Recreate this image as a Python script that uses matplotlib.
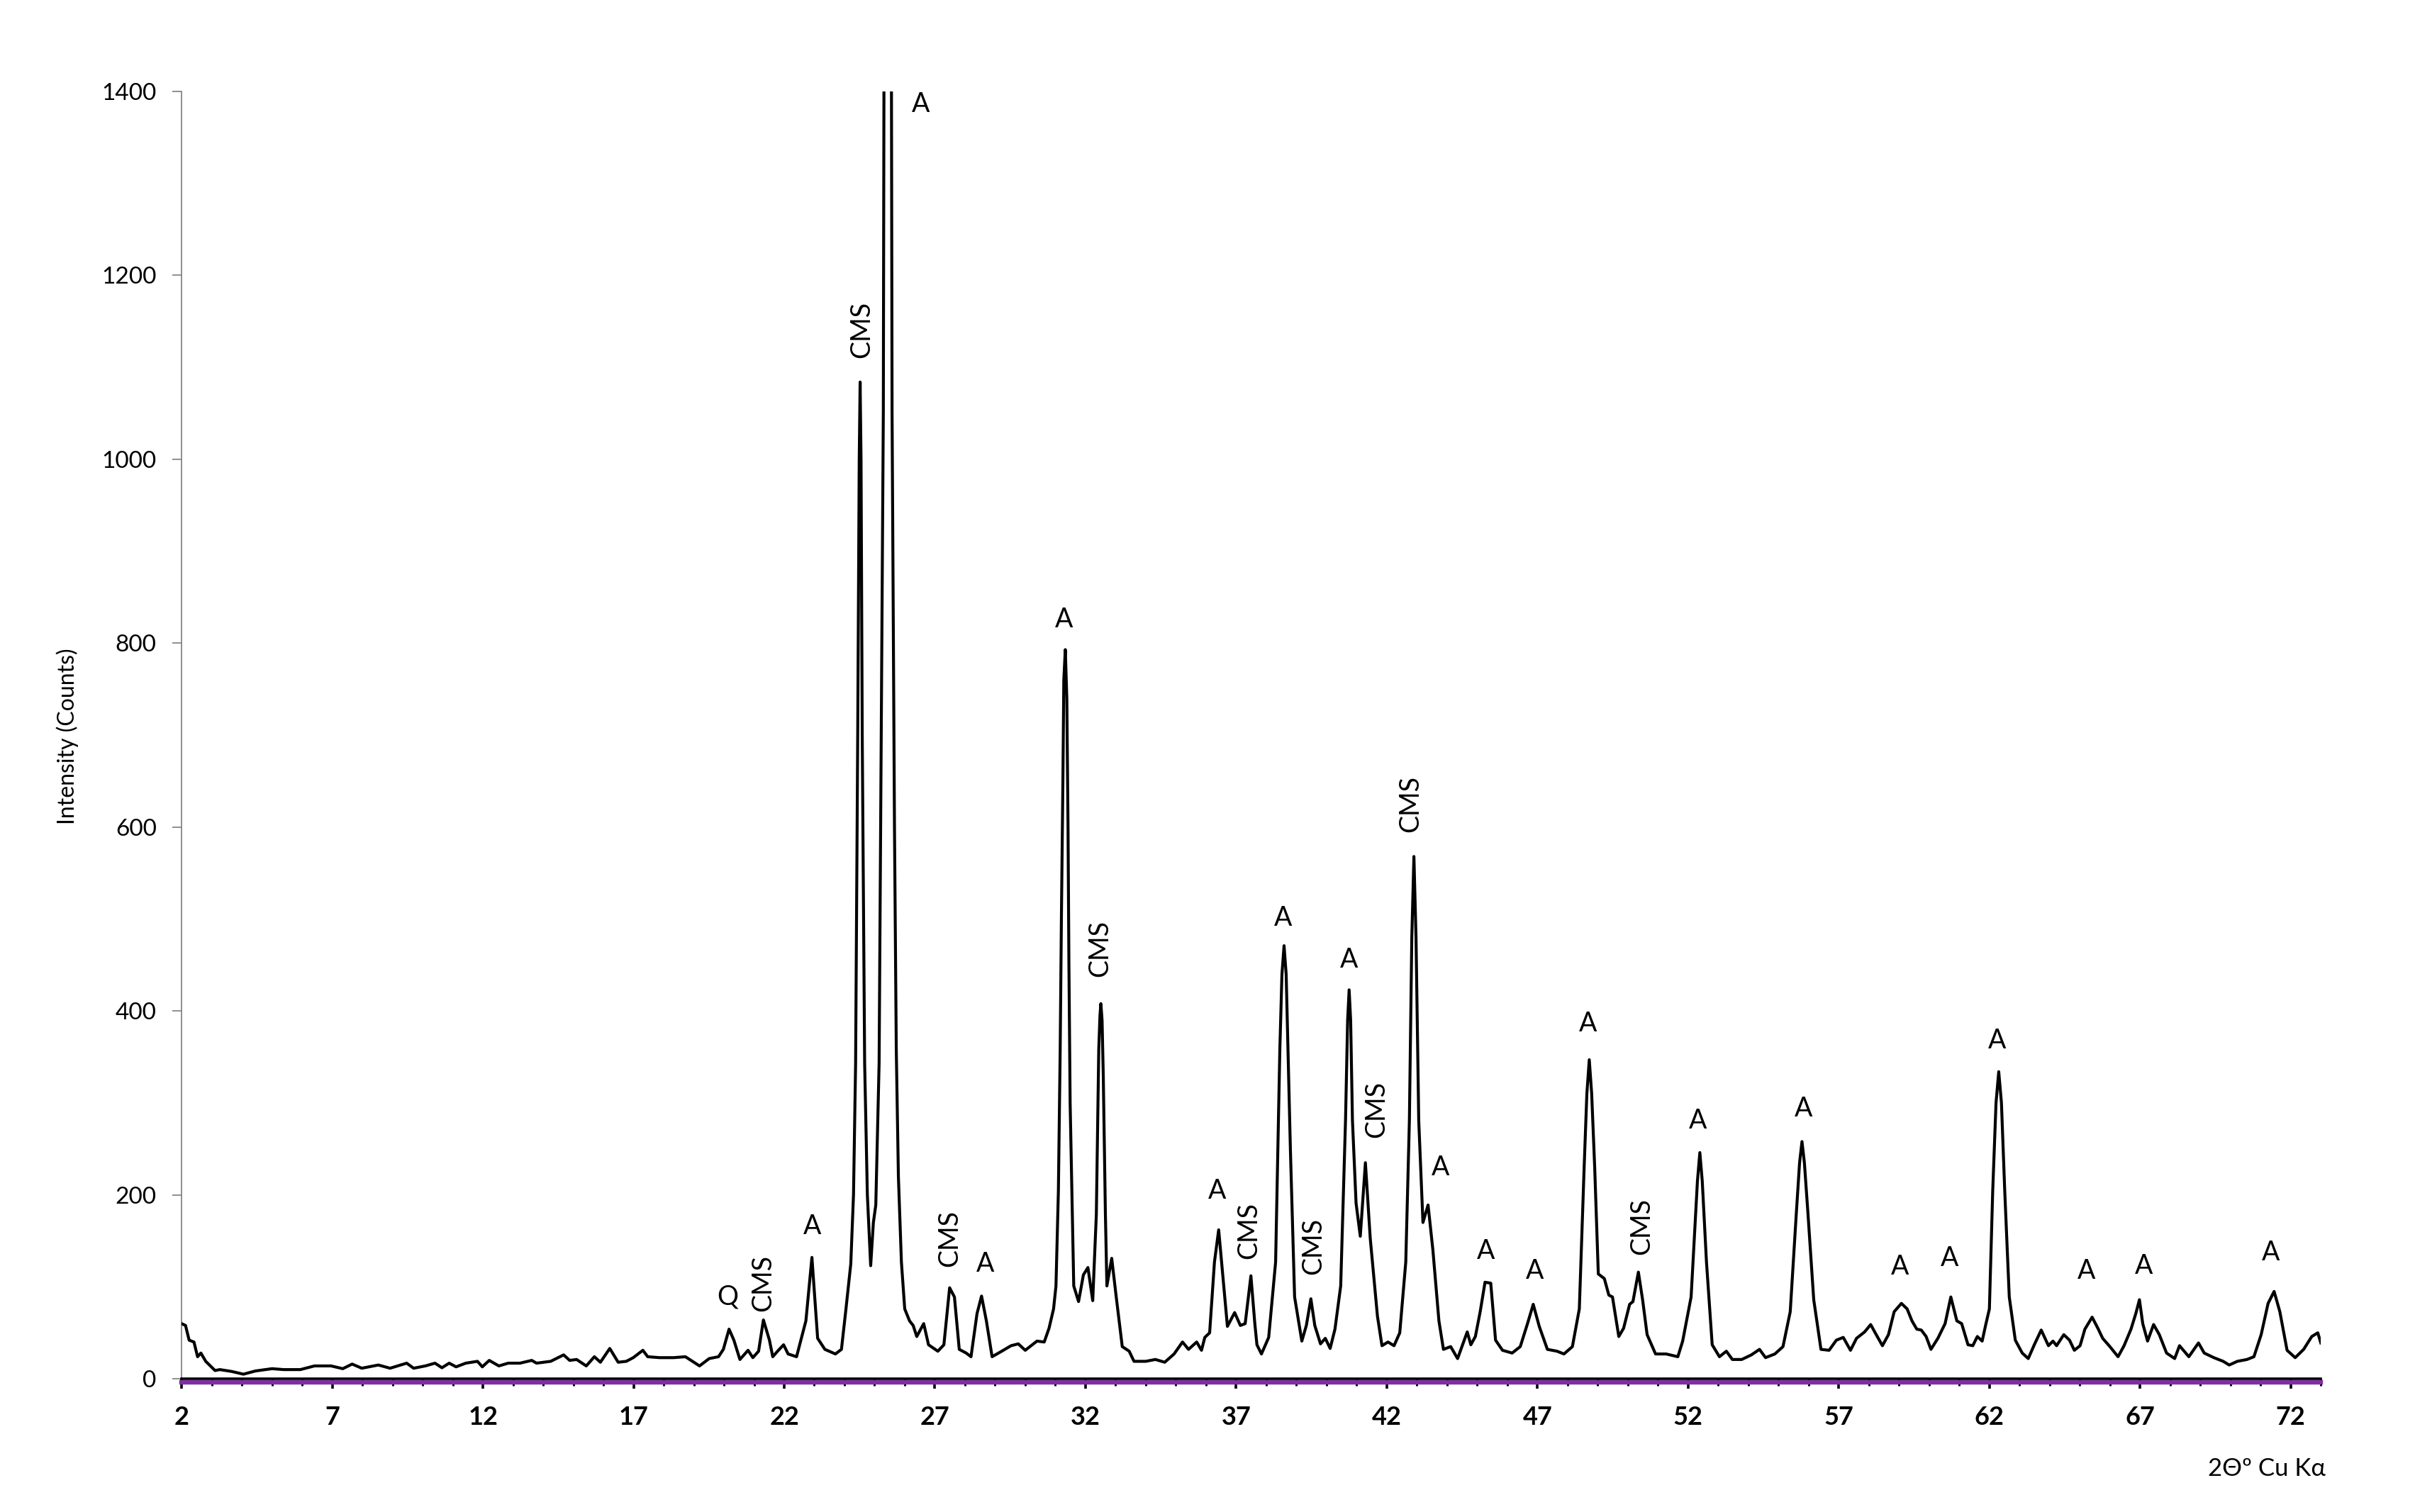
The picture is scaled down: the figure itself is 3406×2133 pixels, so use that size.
import matplotlib
matplotlib.use("Agg")
import matplotlib.pyplot as plt
import matplotlib.transforms as mtransforms
import numpy as np

# XRD pattern (2-theta, counts)
two_theta = [
    2.00, 2.13, 2.25, 2.41, 2.53, 2.64, 2.80, 3.11, 3.27, 3.66, 4.05, 4.45, 5.00, 5.39, 5.94,
    6.41, 6.96, 7.35, 7.66, 7.98, 8.53, 8.92, 9.47, 9.70, 10.09, 10.41, 10.64, 10.88, 11.11,
    11.43, 11.82, 11.98, 12.21, 12.53, 12.84, 13.23, 13.62, 13.78, 14.25, 14.68, 14.88, 15.11,
    15.43, 15.70, 15.90, 16.21, 16.49, 16.76, 16.99, 17.31, 17.47, 17.86, 18.33, 18.72, 19.19,
    19.51, 19.82, 19.98, 20.17, 20.33, 20.53, 20.80, 20.96, 21.15, 21.31, 21.51, 21.62, 21.78,
    21.98, 22.13, 22.41, 22.72, 22.92, 23.11, 23.35, 23.70, 23.90, 24.05, 24.21, 24.30, 24.37,
    24.44, 24.52, 24.59, 24.67, 24.76, 24.87, 24.96, 25.04, 25.15, 25.22, 25.29, 25.31, 25.36,
    25.43, 25.50, 25.56, 25.58, 25.66, 25.72, 25.79, 25.89, 26.00, 26.16, 26.28, 26.40, 26.63,
    26.79, 27.10, 27.30, 27.49, 27.65, 27.81, 28.04, 28.20, 28.40, 28.55, 28.71, 28.90, 29.22,
    29.53, 29.77, 30.00, 30.39, 30.63, 30.79, 30.94, 31.02, 31.10, 31.16, 31.25, 31.33, 31.42,
    31.49, 31.61, 31.77, 31.93, 32.08, 32.24, 32.36, 32.44, 32.51, 32.59, 32.66, 32.71, 32.87,
    33.02, 33.22, 33.45, 33.61, 34.00, 34.32, 34.63, 34.94, 35.22, 35.42, 35.69, 35.85, 35.96,
    36.12, 36.28, 36.42, 36.59, 36.71, 36.95, 37.14, 37.30, 37.49, 37.62, 37.69, 37.84, 38.08,
    38.31, 38.45, 38.59, 38.72, 38.80, 38.94, 39.18, 39.33, 39.48, 39.61, 39.80, 39.96, 40.12,
    40.28, 40.47, 40.63, 40.75, 40.86, 40.98, 41.12, 41.29, 41.45, 41.69, 41.84, 42.04, 42.24,
    42.43, 42.63, 42.75, 42.90, 43.06, 43.20, 43.37, 43.53, 43.73, 43.88, 44.12, 44.35, 44.55,
    44.67, 44.79, 44.94, 45.10, 45.26, 45.45, 45.61, 45.84, 46.16, 46.43, 46.67, 46.86, 47.06,
    47.33, 47.65, 47.88, 48.16, 48.39, 48.55, 48.72, 48.90, 49.02, 49.22, 49.37, 49.49, 49.70,
    49.86, 50.06, 50.17, 50.35, 50.49, 50.64, 50.92, 51.27, 51.66, 51.82, 52.10, 52.39, 52.61,
    52.80, 53.04, 53.27, 53.47, 53.78, 54.10, 54.37, 54.57, 54.88, 55.15, 55.39, 55.59, 55.78,
    55.98, 56.17, 56.41, 56.68, 56.92, 57.15, 57.39, 57.59, 57.86, 58.06, 58.21, 58.45, 58.65,
    58.84, 59.08, 59.27, 59.43, 59.59, 59.74, 59.90, 60.06, 60.29, 60.53, 60.72, 60.92, 61.08,
    61.29, 61.45, 61.60, 61.76, 61.88, 62.00, 62.11, 62.31, 62.51, 62.66, 62.86, 63.09, 63.29,
    63.49, 63.72, 63.96, 64.11, 64.23, 64.47, 64.66, 64.82, 65.01, 65.17, 65.41, 65.60, 65.76,
    66.00, 66.27, 66.47, 66.70, 66.86, 66.98, 67.09, 67.25, 67.45, 67.64, 67.88, 68.15, 68.31,
    68.62, 68.94, 69.13, 69.45, 69.76, 69.96, 70.23, 70.55, 70.78, 71.02, 71.25, 71.45, 71.64,
    71.88, 72.15, 72.43, 72.70, 72.90, 73.00,
]
counts = [
    60, 58, 42, 40, 24, 28, 19, 9, 10, 8, 5, 8.5, 11, 10, 10,
    14, 14, 11, 16, 11.5, 15, 11.5, 17, 11.5, 14, 17, 12, 17, 13,
    17, 19, 13, 20, 14, 17, 17, 20, 17, 19, 26, 20, 21,
    14, 24, 18, 33, 18, 19, 23, 31, 24, 23, 23, 24, 14,
    22, 24, 32, 54, 42, 21, 31, 23, 30, 64, 42, 24, 30,
    37, 27, 24, 63, 132, 44, 32, 27, 32, 76, 125, 200, 343,
    700, 1084, 700, 343, 200, 123, 170, 189, 343, 700, 1052, 1400, 2200,
    2600, 2200, 1400, 1052, 600, 358, 220, 127, 76, 63, 58, 46, 60,
    37, 30, 37, 99, 89, 32, 28, 24, 71, 90, 63, 24, 30,
    36, 38, 31, 41, 40, 55, 76, 101, 204, 358, 650, 793, 600,
    300, 101, 84, 113, 121, 85, 179, 358, 408, 330, 180, 101, 131,
    89, 35, 30, 19, 19, 21, 18, 27, 40, 32, 40, 31, 45,
    50, 127, 162, 101, 57, 72, 58, 60, 112, 60, 37, 27, 45,
    127, 358, 471, 358, 250, 89, 41, 58, 87, 58, 38, 44, 33,
    54, 101, 281, 423, 281, 191, 155, 235, 153, 68, 36, 40, 36,
    50, 127, 281, 568, 281, 170, 189, 140, 63, 32, 35, 22, 40,
    51, 37, 46, 73, 105, 104, 42, 31, 28, 35, 60, 81, 57,
    32, 30, 27, 35, 76, 230, 347, 230, 114, 109, 91, 89, 46,
    55, 81, 84, 116, 86, 48, 27, 27, 24, 41, 89, 246, 127,
    37, 24, 30, 21, 21, 26, 32, 23, 27, 35, 73, 179, 258,
    179, 86, 32, 31, 42, 45, 31, 44, 51, 59, 50, 36, 48,
    73, 82, 76, 63, 54, 53, 46, 32, 44, 60, 89, 63, 60,
    37, 36, 46, 41, 59, 76, 204, 334, 204, 89, 42, 28, 22,
    37, 53, 36, 41, 36, 48, 42, 31, 36, 54, 67, 55, 44,
    35, 24, 36, 54, 71, 86, 60, 41, 59, 48, 28, 22, 36,
    24, 39, 28, 23, 19, 15, 19, 21, 24, 48, 82, 95, 73,
    31, 23, 32, 46, 50, 39,
]

# extra readings near the tops of the strong peaks (rounder shoulders)
top_theta = [24.49, 24.55, 31.20, 31.28, 31.38, 31.45, 32.48, 32.55, 38.52, 38.66,
             40.70, 40.80, 42.83, 42.97, 48.64, 48.80, 52.31, 52.47, 55.70, 55.86,
             62.22, 62.40]
top_counts = [1000, 1000, 500, 760, 740, 450, 395, 390, 440, 440,
              390, 390, 480, 480, 310, 310, 215, 215, 235, 235,
              300, 300]

# phase labels: Q = quartz, CMS, A
label_text = ["Q", "CMS", "A", "CMS", "A", "CMS", "A", "A", "CMS", "A", "CMS", "A", "CMS",
              "A", "CMS", "CMS", "A", "A", "A", "A", "CMS", "A", "A", "A", "A", "A", "A", "A", "A"]
label_x = [20.13, 21.31, 22.92, 24.56, 26.54, 27.49, 28.67, 31.29, 32.47, 36.36, 37.42, 38.55, 39.57,
           40.75, 41.65, 42.79, 43.77, 45.29, 46.90, 48.67, 50.45, 52.33, 55.82, 59.04, 60.67,
           62.26, 65.21, 67.13, 71.35]
label_y = [89, 104, 166, 1141, 1386, 153, 125, 826, 468, 204, 161, 501, 144,
           456, 293, 625, 230, 139, 117, 386, 166, 281, 294, 122, 131,
           368, 117, 123, 137]

pattern = sorted(zip(two_theta + top_theta, counts + top_counts))
xs = [p[0] for p in pattern]
ys = [p[1] for p in pattern]

plt.rcParams['font.family'] = ['Lato', 'DejaVu Sans']

fig = plt.figure(figsize=(34.06, 21.33), dpi=100)
ax = fig.add_axes([0.0752, 0.0881, 0.8858, 0.8514])

ax.plot(xs, ys, color='black', lw=3.0, zorder=3, solid_joinstyle='round')

# purple zero series sitting just under the black axis line
base = ax.axhline(0, color='#7F2FA3', lw=4.6, zorder=4)
base.set_transform(base.get_transform() +
                   mtransforms.ScaledTranslation(0, -5 / 100, fig.dpi_scale_trans))
base.set_clip_on(False)

for t, x, y in zip(label_text, label_x, label_y):
    ax.text(x, y, t, rotation=90 if t == "CMS" else 0, ha='center', va='center', fontsize=27)

ax.set_xlim(2, 73)
ax.set_ylim(0, 1400)
ax.set_xticks(np.arange(2, 74, 5))
ax.set_xticks(np.arange(2, 74, 1), minor=True)
ax.set_yticks(np.arange(0, 1401, 200))

for s in ['top', 'right']:
    ax.spines[s].set_visible(False)
ax.spines['bottom'].set_color('black')
ax.spines['bottom'].set_linewidth(2.6)
ax.spines['bottom'].set_zorder(5)
ax.spines['left'].set_color('#868686')
ax.spines['left'].set_linewidth(1.3)

ax.tick_params(axis='x', which='major', direction='out', length=10, width=2.6,
               color='black', labelsize=26, pad=17)
ax.tick_params(axis='x', which='minor', direction='out', length=7.5, width=2.2, color='black')
ax.tick_params(axis='y', which='major', direction='out', length=9.5, width=1.3,
               color='#868686', labelsize=24, pad=16)
for lab in ax.get_xticklabels():
    lab.set_fontweight('bold')

fig.text(0.028, 0.513, 'Intensity (Counts)', rotation=90, ha='center', va='center', fontsize=23)
fig.text(0.963, 0.0286, '2Θº Cu Kα', ha='right', va='center', fontsize=25)

fig.savefig('out.png', dpi=100)
